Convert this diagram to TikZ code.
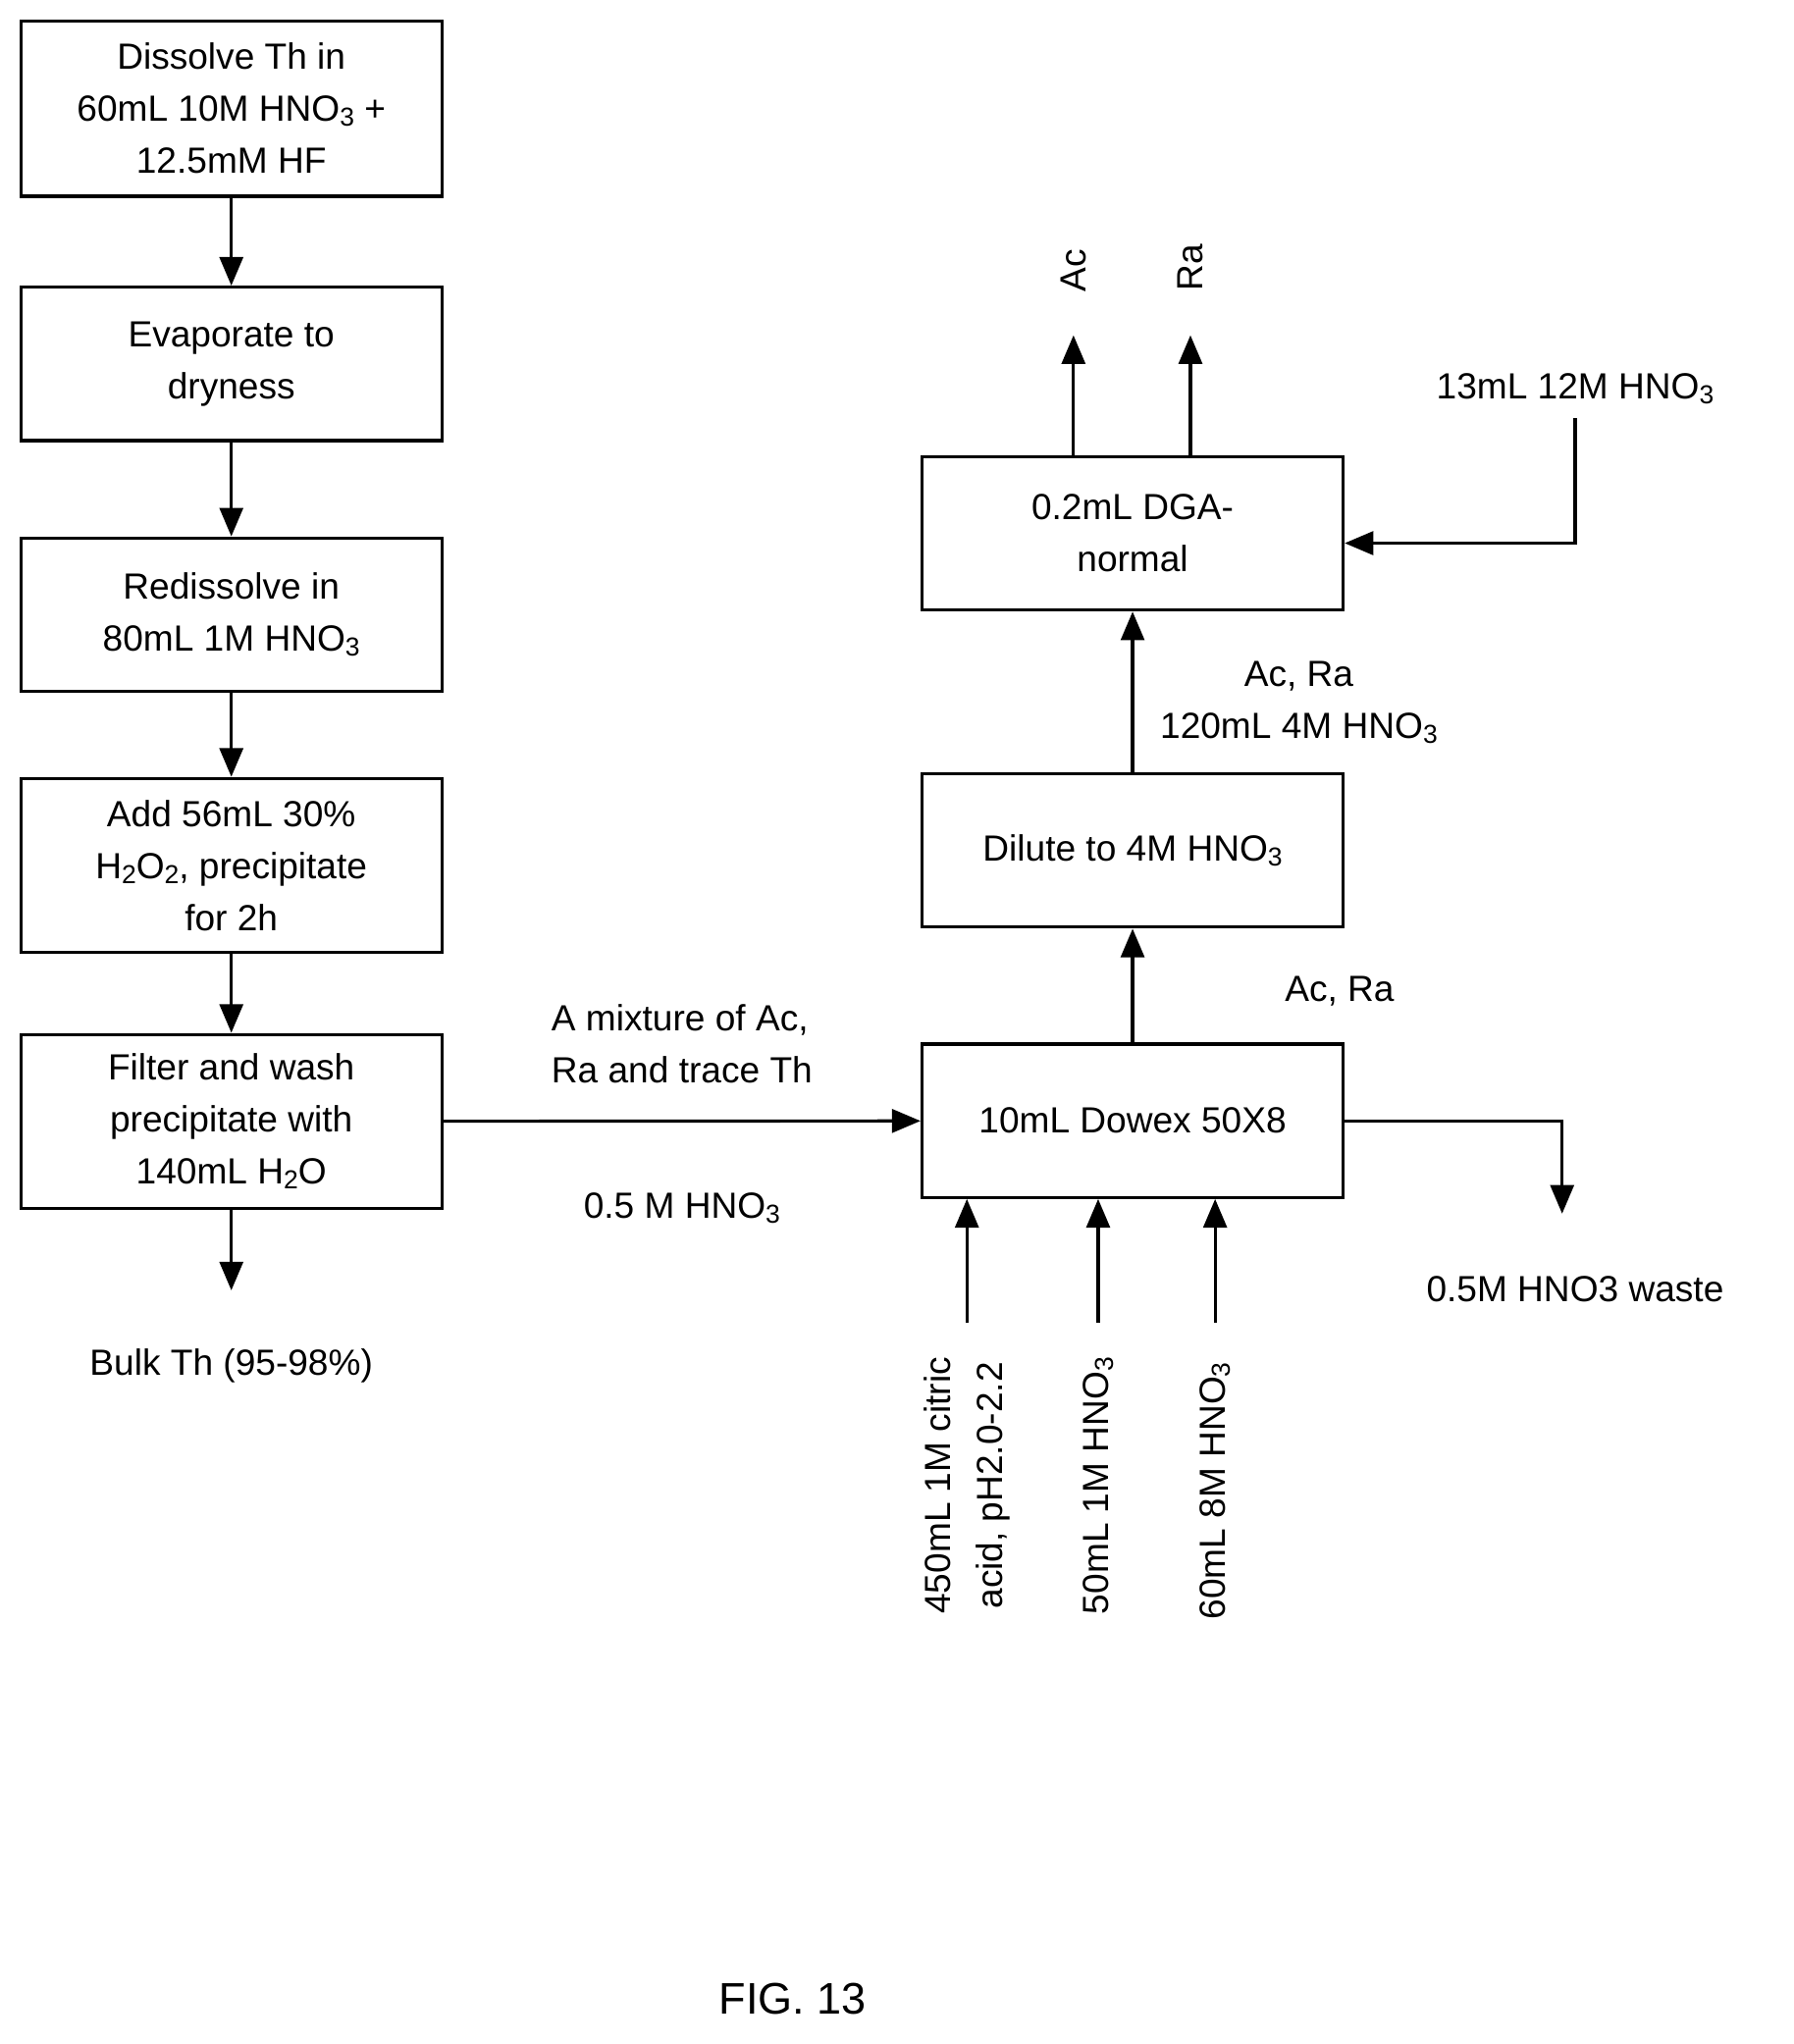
\documentclass[tikz,border=0pt]{standalone}
\usepackage{fontspec}
\setmainfont{Liberation Sans}
\usetikzlibrary{arrows.meta}
\newcommand{\sub}[1]{\raisebox{-0.25ex}{\fontsize{10}{10}\selectfont #1}}
\newcommand{\hno}{HNO\sub{3}}
\tikzset{
  step/.style={draw,line width=1.2pt,minimum width=162pt,minimum height=#1,align=center,inner sep=0pt},
  step/.default=59pt,
  flow/.style={line width=1.2pt,-{Triangle[length=11pt,width=9pt]}},
  txt/.style={align=center,inner sep=0pt}
}
\begin{document}
\begin{tikzpicture}[x=0.5pt,y=-0.5pt,font=\fontsize{14}{20}\selectfont]
\useasboundingbox (0,0) rectangle (1380,1573);
% left column
\node[step=67.5pt] (dissolve) at (178,83.5) {Dissolve Th in\\60mL 10M \hno{} +\\12.5mM HF};
\node[step] (evap) at (178,280) {Evaporate to\\dryness};
\node[step] (redis) at (178,473) {Redissolve in\\80mL 1M \hno};
\node[step=67pt] (perox) at (178,666) {Add 56mL 30\%\\H\sub{2}O\sub{2}, precipitate\\for 2h};
\node[step=67pt] (filter) at (178,863) {Filter and wash\\precipitate with\\140mL H\sub{2}O};
\coordinate (bulkend) at (178,993);
\node[txt] (bulk) at (178,1051) {Bulk Th (95-98\%)};
\draw[flow] (dissolve) -- (evap);
\draw[flow] (evap) -- (redis);
\draw[flow] (redis) -- (perox);
\draw[flow] (perox) -- (filter);
\draw[flow] (filter) -- (bulkend);
% right column
\node[step] (dowex) at (871.5,862.5) {10mL Dowex 50X8};
\node[step] (dilute) at (871.5,654.5) {Dilute to 4M \hno};
\node[step] (dga) at (871.5,410.5) {0.2mL DGA-\\normal};
\draw[flow] (filter) -- node[above=14pt,txt,align=left] {A mixture of Ac,\\Ra and trace Th}
  node[below=27pt,txt] {0.5 M \hno} (dowex);
\draw[flow] (dowex) -- node[right=58pt,yshift=-2pt,txt] {Ac, Ra} (dilute);
\draw[flow] (dilute) -- node[right=10pt,yshift=-4pt,txt] {Ac, Ra\\120mL 4M \hno} (dga);
% products
\coordinate (actop) at (826,258);
\coordinate (ratop) at (916,258);
\node[txt,rotate=90] (ac) at (826,208) {Ac};
\node[txt,rotate=90] (ra) at (916,206) {Ra};
\draw[flow] (dga.north -| actop) -- (actop);
\draw[flow] (dga.north -| ratop) -- (ratop);
\node[txt] (acid12) at (1212,299) {13mL 12M \hno};
\draw[flow] (1212,322) |- (dga.east |- 0,418);
% waste
\coordinate (wasteend) at (1202,934);
\node[txt] (waste) at (1212,992) {0.5M HNO3 waste};
\draw[flow] (dowex.east) -| (wasteend);
% eluents
\node[txt,rotate=90,anchor=east] (citric) at (744,1044) {450mL 1M citric\\acid, pH2.0-2.2};
\node[txt,rotate=90,anchor=east] (hno1) at (845,1044) {50mL 1M \hno};
\node[txt,rotate=90,anchor=east] (hno8) at (935,1048) {60mL 8M \hno};
\draw[flow] (744,1018) -- (dowex.south -| 744,0);
\draw[flow] (845,1018) -- (dowex.south -| 845,0);
\draw[flow] (935,1018) -- (dowex.south -| 935,0);
\node[txt,font=\fontsize{17}{20}\selectfont] (fig) at (610,1538) {FIG. 13};
\end{tikzpicture}
\end{document}
